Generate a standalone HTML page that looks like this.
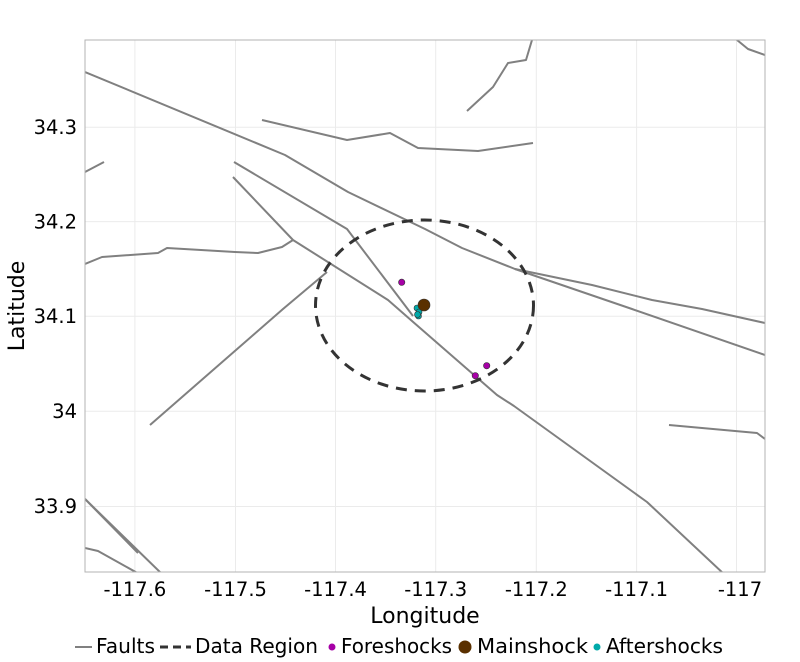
<!DOCTYPE html>
<html><head><meta charset="utf-8"><style>
html,body{margin:0;padding:0;background:#fff;}
svg{display:block;font-family:"DejaVu Sans","Liberation Sans",sans-serif;}
</style></head><body>
<svg width="800" height="662" viewBox="0 0 800 662">
<rect x="85" y="40" width="680" height="532" fill="#fff"/>
<g stroke="#ebebeb" stroke-width="1">
<line x1="134.9" y1="40" x2="134.9" y2="572"/><line x1="235.5" y1="40" x2="235.5" y2="572"/>
<line x1="335.5" y1="40" x2="335.5" y2="572"/><line x1="435.7" y1="40" x2="435.7" y2="572"/>
<line x1="536.3" y1="40" x2="536.3" y2="572"/><line x1="636.6" y1="40" x2="636.6" y2="572"/>
<line x1="736.5" y1="40" x2="736.5" y2="572"/>
<line x1="85" y1="127.3" x2="765" y2="127.3"/><line x1="85" y1="221.6" x2="765" y2="221.6"/>
<line x1="85" y1="316.2" x2="765" y2="316.2"/><line x1="85" y1="411.2" x2="765" y2="411.2"/>
<line x1="85" y1="506.5" x2="765" y2="506.5"/>
</g>
<clipPath id="c"><rect x="85" y="40" width="680" height="532"/></clipPath>
<g clip-path="url(#c)" fill="none" stroke="#808080" stroke-width="2" stroke-linejoin="round">
<polyline points="85,72 285,155 348,192 425,229 462,248 515,269 592,285 652,300 702,309 765,323"/>
<polyline points="515,269 632,309 765,355"/>
<polyline points="262,120 347,140 390,133 418,148 478,151 533,143"/>
<polyline points="467,111 493,87 508,63 526,60 532,40"/>
<polyline points="737,40 748,49 765,55"/>
<polyline points="85,172 104,162"/>
<polyline points="234,162 347,229 413,316"/>
<polyline points="233,177 293,240 388,300 412,321 497,395 514,406 647,502 725,575"/>
<polyline points="85,264 102,257 158,253 167,248 235,252 258,253 282,247 293,240"/>
<polyline points="150,425 283,309 327,272"/>
<polyline points="85,499 138,553"/>
<polyline points="85,499 163,575"/>
<polyline points="85,548 98,551 141,575"/>
<polyline points="669,425 757,433 765,439"/>
</g>
<ellipse cx="424.5" cy="305.5" rx="109" ry="85.5" fill="none" stroke="#333" stroke-width="3" stroke-dasharray="11,8"/>
<g stroke="#333" stroke-width="0.6">
<circle cx="401.7" cy="282.3" r="3.2" fill="#a600a6"/>
<circle cx="475.3" cy="375.7" r="3.2" fill="#a600a6"/>
<circle cx="486.7" cy="365.7" r="3.2" fill="#a600a6"/>
<circle cx="417" cy="308" r="3" fill="#00aaaa"/>
<circle cx="418.5" cy="316" r="3" fill="#00aaaa"/>
<circle cx="419" cy="312" r="3" fill="#00aaaa"/>
<circle cx="417.5" cy="314.5" r="3" fill="#00aaaa"/>
<circle cx="424" cy="305" r="6" fill="#5a3000"/>
</g>
<rect x="85" y="40" width="680" height="532" fill="none" stroke="#b3b3b3" stroke-width="1"/>
<g font-size="19.5" fill="#000" text-anchor="middle">
<text x="134.9" y="596">-117.6</text><text x="235.5" y="596">-117.5</text>
<text x="335.5" y="596">-117.4</text><text x="435.7" y="596">-117.3</text>
<text x="536.3" y="596">-117.2</text><text x="636.6" y="596">-117.1</text>
<text x="740" y="596">-117</text>
</g>
<g font-size="19.5" fill="#000" text-anchor="end">
<text x="77" y="134">34.3</text><text x="77" y="228.5">34.2</text>
<text x="77" y="323">34.1</text><text x="77" y="418">34</text>
<text x="77" y="513">33.9</text>
</g>
<text x="425" y="623" font-size="22" text-anchor="middle">Longitude</text>
<text transform="translate(24,306) rotate(-90)" font-size="22" text-anchor="middle">Latitude</text>
<g font-size="20" fill="#000">
<line x1="75" y1="647" x2="92" y2="647" stroke="#808080" stroke-width="2"/>
<text x="96" y="653" textLength="59" lengthAdjust="spacingAndGlyphs">Faults</text>
<line x1="160" y1="647" x2="191" y2="647" stroke="#333" stroke-width="3" stroke-dasharray="8,5"/>
<text x="195" y="653" textLength="123" lengthAdjust="spacingAndGlyphs">Data Region</text>
<circle cx="332" cy="647" r="3.5" fill="#a600a6"/>
<text x="341" y="653" textLength="111" lengthAdjust="spacingAndGlyphs">Foreshocks</text>
<circle cx="465" cy="647" r="6.5" fill="#5a3000"/>
<text x="477" y="653" textLength="111" lengthAdjust="spacingAndGlyphs">Mainshock</text>
<circle cx="597" cy="647" r="3.5" fill="#00aaaa"/>
<text x="606" y="653" textLength="117" lengthAdjust="spacingAndGlyphs">Aftershocks</text>
</g>
</svg>
</body></html>
